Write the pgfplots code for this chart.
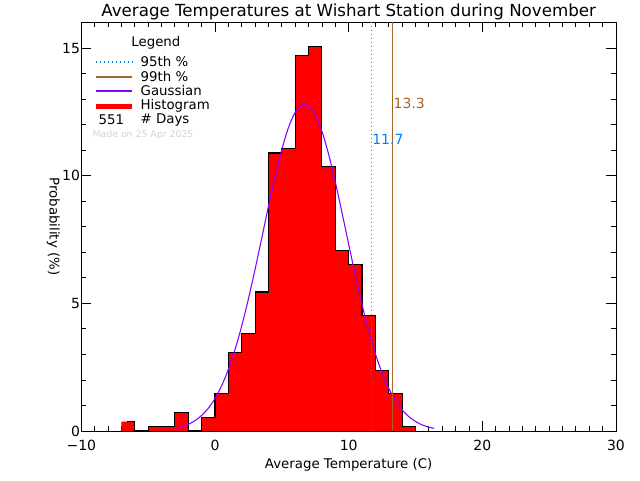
\documentclass[border=0pt]{standalone}
\usepackage{fontspec}
\setmainfont{DejaVu Sans}
\usepackage{pgfplots}
\pgfplotsset{compat=1.18}
\definecolor{pbrown}{RGB}{165,100,40}
\definecolor{pblue}{RGB}{0,128,255}
\definecolor{ppurple}{RGB}{136,0,255}
\definecolor{pgray}{RGB}{210,210,210}
\begin{document}
\begin{tikzpicture}
\path[use as bounding box] (0,0) rectangle (480pt,360pt);
\begin{axis}[
  at={(61pt,36.75pt)}, anchor=south west,
  scale only axis, width=401pt, height=306.75pt,
  xmin=-10, xmax=30, ymin=0, ymax=16.02,
  xtick={-10,0,10,20,30}, xticklabels={−10,0,10,20,30}, minor x tick num=9,
  ytick={0,5,10,15}, minor y tick num=4,
  tick align=inside,
  major tick length=7.5pt, minor tick length=3.75pt,
  tick style={black, line width=0.6pt},
  axis line style={line width=0.6pt},
  /pgf/number format/assume math mode=true,
  tick label style={font=\fontsize{10.5}{12}\selectfont},
  xticklabel style={yshift=-3pt},
  yticklabel style={xshift=2.5pt},
  xlabel={Average Temperature (C)},
  xlabel style={font=\fontsize{10}{12}\selectfont, yshift=1pt},
  ylabel={Probability (\%)},
  ylabel style={font=\fontsize{10}{12}\selectfont, rotate=180, yshift=5pt},
  clip=false,
]
% histogram fill
\addplot[const plot, fill=red, draw=none] coordinates {
(-7,0.363) (-6,0) (-5,0.181) (-4,0.181) (-3,0.726) (-2,0) (-1,0.544)
(0,1.452) (1,3.085) (2,3.811) (3,5.445) (4,10.889) (5,11.071) (6,14.701)
(7,15.064) (8,10.345) (9,7.078) (10,6.534) (11,4.537) (12,2.359)
(13,1.452) (14,0.181) (15,0.181)} \closedcycle;
% histogram outline
\addplot[const plot, black, line width=0.8pt] coordinates {
(-6.6,0.363) (-6,0) (-5,0.181) (-4,0.181) (-3,0.726) (-2,0) (-1,0.544)
(0,1.452) (1,3.085) (2,3.811) (3,5.445) (4,10.889) (5,11.071) (6,14.701)
(7,15.064) (8,10.345) (9,7.078) (10,6.534) (11,4.537) (12,2.359)
(13,1.452) (14,0.181) (15,0.181)};
% gaussian
\addplot[ppurple, line width=0.8pt, smooth] coordinates {
(-3.0,0.102) (-2.5,0.166) (-2.0,0.262) (-1.5,0.405) (-1.0,0.609)
(-0.5,0.893) (0,1.276) (0.5,1.778) (1.0,2.413) (1.5,3.192) (2.0,4.117)
(2.5,5.173) (3.0,6.336) (3.5,7.565) (4.0,8.80) (4.5,9.983) (5.0,11.03)
(5.5,11.89) (6.0,12.48) (6.5,12.77) (6.7,12.8) (7.0,12.74) (7.5,12.39)
(8.0,11.74) (8.5,10.84) (9.0,9.755) (9.5,8.557) (10.0,7.316) (10.5,6.097)
(11.0,4.952) (11.5,3.920) (12.0,3.02) (12.5,2.273) (13.0,1.667)
(13.5,1.190) (14.0,0.829) (14.5,0.562) (15.0,0.372) (15.5,0.240)
(16.0,0.151) (16.4,0.102)};
% percentile lines
\addplot[pbrown, line width=0.7pt, dash pattern=on 0.8pt off 2.2pt] coordinates {(11.7,0) (11.7,16.02)};
\addplot[pbrown, line width=0.6pt] coordinates {(13.3,0) (13.3,16.02)};
\node[anchor=west, text=pbrown, inner sep=0pt, font=\fontsize{10.5}{12}\selectfont] at (axis cs:13.35,12.85) {13.3};
\node[anchor=west, text=pblue, inner sep=0pt, font=\fontsize{10.5}{12}\selectfont] at (axis cs:11.75,11.44) {11.7};
% title
\node[font=\fontsize{12.5}{14}\selectfont, inner sep=0pt] at (axis description cs:0.5,1.0) [yshift=7.5pt] {Average Temperatures at Wishart Station during November};
% legend
\begin{scope}[font=\fontsize{10}{12}\selectfont]
\node[inner sep=0pt] at (axis description cs:0.1395,0.9487) {Legend};
\draw[pblue, line width=0.8pt, dash pattern=on 0.8pt off 2.2pt] (axis description cs:0.0281,0.9022) -- (axis description cs:0.0955,0.9022);
\node[anchor=west, inner sep=0pt] at (axis description cs:0.1105,0.9022) {95th \%};
\draw[pbrown, line width=0.8pt] (axis description cs:0.0281,0.8655) -- (axis description cs:0.0955,0.8655);
\node[anchor=west, inner sep=0pt] at (axis description cs:0.1105,0.8655) {99th \%};
\draw[ppurple, line width=0.8pt] (axis description cs:0.0281,0.8313) -- (axis description cs:0.0955,0.8313);
\node[anchor=west, inner sep=0pt] at (axis description cs:0.1105,0.8313) {Gaussian};
\draw[red, line width=3.75pt] (axis description cs:0.0281,0.7946) -- (axis description cs:0.0955,0.7946);
\node[anchor=west, inner sep=0pt] at (axis description cs:0.1105,0.7946) {Histogram};
\node[anchor=west, inner sep=0pt] at (axis description cs:0.0318,0.7604) {551};
\node[anchor=west, inner sep=0pt] at (axis description cs:0.1105,0.7604) {\# Days};
\node[anchor=west, inner sep=0pt, text=pgray, font=\fontsize{7}{8}\selectfont] at (axis description cs:0.0206,0.7237) {Made on 25 Apr 2025};
\end{scope}
\end{axis}
\end{tikzpicture}
\end{document}
